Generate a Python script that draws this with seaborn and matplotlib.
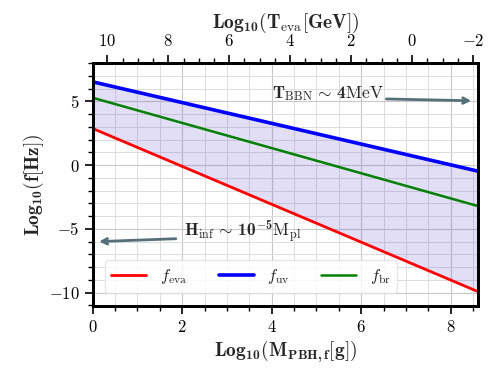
import numpy as np
import pandas as pd
import matplotlib
matplotlib.use("Agg")
import matplotlib.pyplot as plt
from matplotlib.ticker import MultipleLocator, FuncFormatter
import seaborn as sns

# Endpoints (x = log10 M_PBH,f [g], y = log10 f [Hz])
log_m = [0.0, 8.61]
f_eva = [2.88, -9.92]
f_uv = [6.54, -0.47]
f_br = [5.29, -3.21]

# Top axis range (log10 T_eva [GeV]) matching the bottom axis limits
t_eva_lim = [10.48, -2.16]

df = pd.DataFrame({
    "logm": log_m * 3,
    "logf": f_eva + f_uv + f_br,
    "curve": ["eva"] * 2 + ["uv"] * 2 + ["br"] * 2,
})

sns.set_style("ticks")
plt.rcParams["mathtext.fontset"] = "custom"
plt.rcParams["mathtext.rm"] = "cmr10"
plt.rcParams["mathtext.it"] = "cmmi10"
plt.rcParams["mathtext.bf"] = "cmb10"
plt.rcParams["mathtext.fallback"] = "cm"
plt.rcParams["font.family"] = ["DejaVu Serif"]
plt.rcParams["xtick.color"] = "black"
plt.rcParams["ytick.color"] = "black"

fig = plt.figure(figsize=(4.98, 3.74), dpi=100)
ax = fig.add_axes([0.186, 0.182, 0.774, 0.649])

ax.fill_between(log_m, f_eva, f_uv, color="#6a5acd", alpha=0.2, lw=0, zorder=1)

styles = {"eva": ("red", 2.0, r"$f_{\rm eva}$"),
          "uv": ("blue", 2.6, r"$f_{\rm uv}$"),
          "br": ("green", 1.8, r"$f_{\rm br}$")}
for key, (col, lw, lab) in styles.items():
    sns.lineplot(data=df[df.curve == key], x="logm", y="logf", color=col,
                 lw=lw, label=lab, ax=ax, zorder=3)

ax.set_xlim(0, 8.61)
ax.set_ylim(-11.04, 8.0)
ax.xaxis.set_major_locator(MultipleLocator(2))
ax.xaxis.set_minor_locator(MultipleLocator(0.5))
ax.yaxis.set_major_locator(MultipleLocator(5))
ax.yaxis.set_minor_locator(MultipleLocator(1))
fmt = FuncFormatter(lambda v, p: f"${v:g}$")
ax.xaxis.set_major_formatter(fmt)
ax.yaxis.set_major_formatter(fmt)
ax.grid(which="major", color="#c8c8c8", lw=0.8, zorder=0)
ax.grid(which="minor", color="#dcdcdc", lw=0.7, zorder=0)
ax.set_axisbelow(True)
ax.tick_params(which="major", length=6, width=1.2, labelsize=12, direction="out")
ax.tick_params(which="minor", length=3.5, width=1.0, direction="out")

ax.set_xlabel(r"$\mathbf{Log}_{\mathbf{10}}(\mathbf{M}_{\mathbf{PBH,f}}[\mathbf{g}])$",
              fontsize=14, labelpad=2)
ax.set_ylabel(r"$\mathbf{Log}_{\mathbf{10}}(\mathbf{f}[\mathbf{Hz}])$",
              fontsize=14, labelpad=2)

top = ax.twiny()
top.set_xlim(*t_eva_lim)
top.xaxis.set_major_locator(MultipleLocator(2))
top.xaxis.set_minor_locator(MultipleLocator(0.5))
top.xaxis.set_major_formatter(fmt)
top.tick_params(which="major", length=6, width=1.2, labelsize=12, direction="out")
top.tick_params(which="minor", length=3.5, width=1.0, direction="out")
for a in (ax, top):
    for s in a.spines.values():
        s.set_linewidth(2)
        s.set_color("black")
top.set_xlabel(r"$\mathbf{Log}_{\mathbf{10}}(\mathbf{T}_{\rm eva}[\mathbf{GeV}])$",
               fontsize=14, labelpad=4)

arrow_col = "#56707a"
ax.annotate("", xy=(8.52, 5.05), xytext=(6.5, 5.2),
            arrowprops=dict(arrowstyle="->", color=arrow_col, lw=2), zorder=4)
ax.text(4.0, 5.65, r"$\mathbf{T}_{\rm BBN}\,\sim\,\mathbf{4}{\rm MeV}$",
        fontsize=12.5, va="center", ha="left", zorder=4)
ax.annotate("", xy=(0.08, -6.0), xytext=(1.92, -5.76),
            arrowprops=dict(arrowstyle="->", color=arrow_col, lw=2), zorder=4)
ax.text(2.03, -5.3, r"$\mathbf{H}_{\rm inf}\,\sim\,\mathbf{10}^{\mathbf{-5}}{\rm M}_{\rm pl}$",
        fontsize=12.5, va="center", ha="left", zorder=4)

ax.legend(loc="lower left", ncol=3, fontsize=12, frameon=True, fancybox=True,
          framealpha=0.8, edgecolor="#e0e0e0", handlelength=2.1,
          handletextpad=0.8, columnspacing=1.9, bbox_to_anchor=(0.01, 0.02))

fig.savefig("out.png", dpi=100)
